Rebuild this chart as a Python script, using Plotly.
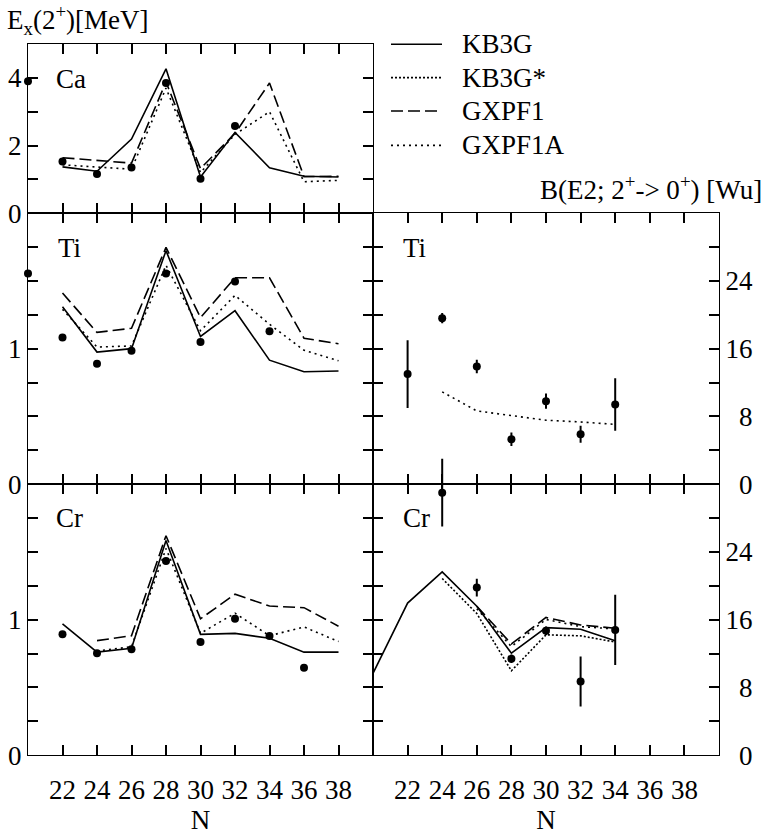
import plotly.graph_objects as go

# ---------------- data ----------------
N_calc = [22, 24, 26, 28, 30, 32, 34, 36, 38]
N_ticks = [22, 24, 26, 28, 30, 32, 34, 36, 38]

# Ca  Ex(2+) [MeV]
ca_exp_N = [20, 22, 24, 26, 28, 30, 32]
ca_exp = [3.90, 1.53, 1.16, 1.35, 3.85, 1.02, 2.58]
ca_kb3g = [1.37, 1.24, 2.19, 4.27, 1.07, 2.39, 1.34, 1.09, 1.07]
ca_gxpf1 = [1.64, 1.56, 1.48, 3.88, 1.32, 2.36, 3.85, 1.08, 1.09]
ca_gxpf1a = [1.43, 1.37, 1.30, 3.70, 1.20, 2.33, 3.00, 0.93, 0.97]

# Ti  Ex(2+) [MeV]
ti_exp_N = [20, 22, 24, 26, 28, 30, 32, 34]
ti_exp = [1.555, 1.083, 0.889, 0.984, 1.554, 1.050, 1.495, 1.129]
ti_kb3g = [1.31, 0.975, 1.00, 1.723, 1.09, 1.28, 0.915, 0.83, 0.835]
ti_gxpf1 = [1.41, 1.12, 1.15, 1.747, 1.229, 1.523, 1.523, 1.077, 1.036]
ti_gxpf1a = [1.29, 1.012, 1.02, 1.615, 1.132, 1.393, 1.18, 0.988, 0.911]

# Cr  Ex(2+) [MeV]
cr_exp_N = [22, 24, 26, 28, 30, 32, 34, 36]
cr_exp = [0.892, 0.752, 0.783, 1.434, 0.835, 1.007, 0.880, 0.646]
cr_kb3g = [0.969, 0.761, 0.79, 1.585, 0.892, 0.899, 0.863, 0.761, 0.761]
cr_calc_N2 = [24, 26, 28, 30, 32, 34, 36, 38]
cr_gxpf1 = [0.846, 0.882, 1.62, 1.007, 1.188, 1.101, 1.089, 0.952]
cr_gxpf1a = [0.77, 0.80, 1.525, 0.90, 1.048, 0.882, 0.947, 0.839]

# Ti  B(E2; 2+ -> 0+) [Wu]
ti_be2_N = [22, 24, 26, 28, 30, 32, 34]
ti_be2 = [13.0, 19.6, 13.9, 5.3, 9.8, 5.9, 9.4]
ti_be2_err = [4.0, 0.6, 0.8, 0.8, 0.9, 1.0, 3.1]
ti_be2_calc_N = [24, 26, 28, 30, 32, 34]
ti_be2_gxpf1a = [10.9, 8.65, 8.1, 7.55, 7.35, 7.06]

# Cr  B(E2; 2+ -> 0+) [Wu]
cr_be2_N = [24, 26, 28, 30, 32, 34]
cr_be2 = [31.0, 19.8, 11.4, 14.7, 8.7, 14.8]
cr_be2_err = [4.0, 1.05, 0.5, 0.5, 2.95, 4.15]
cr_be2_kb3g_N = [20, 22, 24, 26, 28, 30, 32, 34]
cr_be2_kb3g = [9.66, 17.97, 21.64, 17.6, 12.05, 15.07, 14.88, 13.52]
cr_be2_kb3gs_N = [24, 26, 28, 30, 32, 34]
cr_be2_kb3gs = [20.87, 16.73, 9.97, 14.22, 14.1, 13.37]
cr_be2_gx_N = [26, 28, 30, 32, 34]
cr_be2_gxpf1 = [17.6, 13.14, 16.27, 15.38, 15.0]
cr_be2_gxpf1a = [17.3, 12.83, 16.03, 15.19, 14.91]

series_names = ["KB3G", "KB3G*", "GXPF1", "GXPF1A"]

# ---------------- styles ----------------
FONT = "Liberation Serif"
FS = 27
LW = 1.6
DASH = {"KB3G": "solid", "KB3G*": "2px,2px", "GXPF1": "12px,5px", "GXPF1A": "2px,4px"}

W, H = 766, 840
def px_x(p):
    return p / W
def px_y(p):
    return 1 - p / H

XL = (px_x(28), px_x(373))
XR = (px_x(373), px_x(719))
Y_CA = (px_y(217), px_y(45))
Y_TI = (px_y(493), px_y(217))
Y_CR = (px_y(769), px_y(493))
BE2_MAX = 32.0

fig = go.Figure()

def line(xs, ys, name, ax):
    fig.add_trace(go.Scatter(x=xs, y=ys, mode="lines", name=name,
                             line=dict(color="black", width=LW, dash=DASH[name]),
                             xaxis="x" + ax, yaxis="y" + ax, showlegend=False))

def exp(xs, ys, ax, err=None, size=8):
    kw = {}
    if err is not None:
        kw["error_y"] = dict(type="data", array=err, visible=True, color="black",
                             thickness=2, width=0)
    fig.add_trace(go.Scatter(x=xs, y=ys, mode="markers", name="exp",
                             marker=dict(color="black", size=size),
                             xaxis="x" + ax, yaxis="y" + ax, showlegend=False,
                             cliponaxis=False, **kw))

# Ca (axis 1)
line(N_calc, ca_kb3g, "KB3G", "")
line(N_calc, ca_gxpf1, "GXPF1", "")
line(N_calc, ca_gxpf1a, "GXPF1A", "")
exp(ca_exp_N, ca_exp, "")
# Ti (axis 2)
line(N_calc, ti_kb3g, "KB3G", "2")
line(N_calc, ti_gxpf1, "GXPF1", "2")
line(N_calc, ti_gxpf1a, "GXPF1A", "2")
exp(ti_exp_N, ti_exp, "2")
# Cr (axis 3)
line(N_calc, cr_kb3g, "KB3G", "3")
line(cr_calc_N2, cr_gxpf1, "GXPF1", "3")
line(cr_calc_N2, cr_gxpf1a, "GXPF1A", "3")
exp(cr_exp_N, cr_exp, "3")
# Ti B(E2) (axis 4)
line(ti_be2_calc_N, ti_be2_gxpf1a, "GXPF1A", "4")
exp(ti_be2_N, ti_be2, "4", ti_be2_err)
# continuation of the Cr N=24 error bar above the Cr panel top (same scale, shifted by the panel range)
exp([cr_be2_N[0]], [cr_be2[0] - BE2_MAX], "4", [cr_be2_err[0]], size=0)
# Cr B(E2) (axis 5)
line(cr_be2_kb3g_N, cr_be2_kb3g, "KB3G", "5")
line(cr_be2_kb3gs_N, cr_be2_kb3gs, "KB3G*", "5")
line(cr_be2_gx_N, cr_be2_gxpf1, "GXPF1", "5")
line(cr_be2_gx_N, cr_be2_gxpf1a, "GXPF1A", "5")
exp(cr_be2_N, cr_be2, "5", cr_be2_err)

common = dict(showline=True, linecolor="black", linewidth=1, mirror="allticks",
              ticks="inside", ticklen=10, tickwidth=1.5, tickcolor="black",
              showgrid=False, zeroline=False, fixedrange=True,
              tickfont=dict(family=FONT, size=FS, color="black"))

def xax(domain, anchor, labels):
    d = dict(common, domain=domain, anchor=anchor, range=[20, 40],
             tickvals=N_ticks, ticktext=[str(v) for v in N_ticks],
             showticklabels=labels, ticklabelstandoff=10)
    if labels:
        d["title"] = dict(text="N", font=dict(family=FONT, size=FS, color="black"), standoff=6)
    return d

def ylab(vals, shown):
    return [str(v) if v in shown else "" for v in vals]

ca_ticks = [0, 1, 2, 3, 4]
ti_ticks = [0, 0.25, 0.5, 0.75, 1, 1.25, 1.5, 1.75]
be_ticks = [0, 4, 8, 12, 16, 20, 24, 28]
be_text = ["\u20070" if v == 0 else ("\u20078" if v == 8 else (str(v) if v in (16, 24) else "")) for v in be_ticks]

fig.update_layout(
    width=W, height=H, margin=dict(l=0, r=0, t=0, b=0),
    plot_bgcolor="white", paper_bgcolor="white", showlegend=False,
    xaxis=xax(XL, "y", False),
    yaxis=dict(common, domain=Y_CA, anchor="x", range=[0, 5], tickvals=ca_ticks,
               ticktext=ylab(ca_ticks, (0, 2, 4))),
    xaxis2=xax(XL, "y2", False),
    yaxis2=dict(common, domain=Y_TI, anchor="x2", range=[0, 2], tickvals=ti_ticks,
                ticktext=ylab(ti_ticks, (0, 1))),
    xaxis3=xax(XL, "y3", True),
    yaxis3=dict(common, domain=Y_CR, anchor="x3", range=[0, 2], tickvals=ti_ticks,
                ticktext=ylab(ti_ticks, (0, 1))),
    xaxis4=xax(XR, "y4", False),
    yaxis4=dict(common, domain=Y_TI, anchor="x4", range=[0, BE2_MAX], side="right",
                tickvals=be_ticks, ticktext=be_text),
    xaxis5=xax(XR, "y5", True),
    yaxis5=dict(common, domain=Y_CR, anchor="x5", range=[0, BE2_MAX], side="right",
                tickvals=be_ticks, ticktext=be_text),
)

tfont = dict(family=FONT, size=FS, color="black")
ann = [
    dict(text="E<sub>x</sub>(2<sup>+</sup>)[MeV]", x=px_x(5), y=px_y(20), xanchor="left", yanchor="middle"),
    dict(text="B(E2; 2<sup>+</sup>-> 0<sup>+</sup>) [Wu]", x=px_x(764), y=px_y(191), xanchor="right", yanchor="middle"),
    dict(text="Ca", x=px_x(54), y=px_y(80), xanchor="left", yanchor="middle"),
    dict(text="Ti", x=px_x(56), y=px_y(252), xanchor="left", yanchor="middle"),
    dict(text="Cr", x=px_x(54), y=px_y(527), xanchor="left", yanchor="middle"),
    dict(text="Ti", x=px_x(401), y=px_y(252), xanchor="left", yanchor="middle"),
    dict(text="Cr", x=px_x(401), y=px_y(527), xanchor="left", yanchor="middle"),
]
legend_rows = [45, 79, 113, 148]
shapes = []
for name, ry in zip(series_names, legend_rows):
    shapes.append(dict(type="line", xref="paper", yref="paper", x0=px_x(391), x1=px_x(442),
                       y0=px_y(ry), y1=px_y(ry), line=dict(color="black", width=LW, dash=DASH[name])))
    ann.append(dict(text=name, x=px_x(460), y=px_y(ry), xanchor="left", yanchor="middle"))
for a in ann:
    a.update(xref="paper", yref="paper", showarrow=False, font=tfont)
fig.update_layout(annotations=ann, shapes=shapes)

fig.write_html("out.html", config={"displayModeBar": False},
               post_script="document.body.style.margin='0';document.body.style.overflow='hidden';")
